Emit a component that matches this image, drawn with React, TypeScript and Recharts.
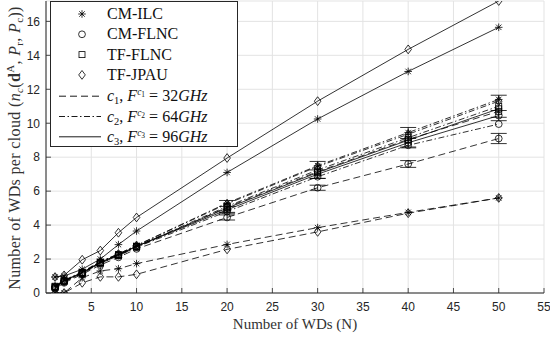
import React from 'react';
import { LineChart, Line, XAxis, YAxis, CartesianGrid, Legend, ErrorBar } from 'recharts';

// ---------- data ----------
const XS = [1, 2, 4, 6, 8, 10, 20, 30, 40, 50];
const X_TICKS = [5, 10, 15, 20, 25, 30, 35, 40, 45, 50, 55];
const Y_TICKS = [0, 2, 4, 6, 8, 10, 12, 14, 16];

const ILC_C1 = [0, 0, 0.9, 1.3, 1.43, 1.73, 2.86, 3.85, 4.75, 5.6];
const ILC_C2 = [0.4, 0.75, 1.25, 1.85, 2.3, 2.8, 5.3, 7.5, 9.45, 11.4];
const ILC_C3 = [0.94, 1.0, 1.4, 2.0, 2.85, 3.65, 7.1, 10.25, 13.05, 15.65];
const CMFLNC_C1 = [0.25, 0.6, 1.1, 1.65, 2.1, 2.6, 4.45, 6.2, 7.6, 9.1];
const CMFLNC_C2 = [0.3, 0.65, 1.15, 1.75, 2.2, 2.7, 4.8, 6.85, 8.7, 9.95];
const CMFLNC_C3 = [0.35, 0.7, 1.2, 1.8, 2.25, 2.75, 4.9, 7.0, 8.85, 10.45];
const TFFLNC_C1 = [0.35, 0.7, 1.15, 1.75, 2.2, 2.7, 5.05, 7.15, 9.05, 10.7];
const TFFLNC_C2 = [0.35, 0.7, 1.2, 1.8, 2.25, 2.75, 5.1, 7.25, 9.15, 11.0];
const TFFLNC_C3 = [0.4, 0.75, 1.2, 1.8, 2.25, 2.75, 5.0, 7.1, 9.0, 10.85];
const JPAU_C1 = [0, 0, 0.6, 0.95, 0.95, 1.1, 2.57, 3.6, 4.7, 5.6];
const JPAU_C2 = [0.35, 0.7, 1.2, 1.85, 2.3, 2.8, 5.25, 7.45, 9.35, 11.3];
const JPAU_C3 = [0.94, 1.04, 1.96, 2.5, 3.55, 4.45, 7.95, 11.3, 14.35, 17.2];

// error (half-range) values
const ERR_CMFLNC_C1 = [null, null, null, null, null, null, 0.15, 0.15, 0.2, 0.3];
const ERR_CMFLNC_C3 = [null, null, null, null, null, null, 0.2, 0.25, 0.25, 0.3];
const ERR_TFFLNC_C2 = [null, null, null, null, null, null, 0.35, 0.5, 0.6, 0.65];

type Shape = 'star' | 'circle' | 'square' | 'diamond';

const DASH = '7 4';
const DASHDOT = '6 2.5 1.5 2.5';

const SERIES: { key: string; values: number[]; shape: Shape; dash?: string; err?: (number | null)[] }[] = [
  { key: 'ilc1', values: ILC_C1, shape: 'star', dash: DASH },
  { key: 'ilc2', values: ILC_C2, shape: 'star', dash: DASHDOT },
  { key: 'ilc3', values: ILC_C3, shape: 'star' },
  { key: 'cm1', values: CMFLNC_C1, shape: 'circle', dash: DASH, err: ERR_CMFLNC_C1 },
  { key: 'cm2', values: CMFLNC_C2, shape: 'circle', dash: DASHDOT },
  { key: 'cm3', values: CMFLNC_C3, shape: 'circle', err: ERR_CMFLNC_C3 },
  { key: 'tf1', values: TFFLNC_C1, shape: 'square', dash: DASH },
  { key: 'tf2', values: TFFLNC_C2, shape: 'square', dash: DASHDOT, err: ERR_TFFLNC_C2 },
  { key: 'tf3', values: TFFLNC_C3, shape: 'square' },
  { key: 'jp1', values: JPAU_C1, shape: 'diamond', dash: DASH },
  { key: 'jp2', values: JPAU_C2, shape: 'diamond', dash: DASHDOT },
  { key: 'jp3', values: JPAU_C3, shape: 'diamond' },
];

const data = XS.map((x, i) => {
  const row: Record<string, number | null> = { x };
  SERIES.forEach((s) => {
    row[s.key] = s.values[i];
    if (s.err) row[s.key + '_err'] = s.err[i];
  });
  return row;
});

const AX = '#262626';
const SERIF = '"Liberation Serif", "Times New Roman", serif';
const SANS = '"Liberation Sans", Arial, Helvetica, sans-serif';

function Marker({ shape, cx, cy }: { shape: Shape; cx: number; cy: number }) {
  const sw = 0.8;
  if (shape === 'star') {
    const r = 3.8;
    const d = r * 0.72;
    return (
      <g stroke="#000" strokeWidth={sw}>
        <line x1={cx - r} y1={cy} x2={cx + r} y2={cy} />
        <line x1={cx} y1={cy - r} x2={cx} y2={cy + r} />
        <line x1={cx - d} y1={cy - d} x2={cx + d} y2={cy + d} />
        <line x1={cx - d} y1={cy + d} x2={cx + d} y2={cy - d} />
      </g>
    );
  }
  if (shape === 'circle') {
    return <circle cx={cx} cy={cy} r={3.4} fill="none" stroke="#000" strokeWidth={sw} />;
  }
  if (shape === 'square') {
    return <rect x={cx - 3} y={cy - 3} width={6} height={6} fill="none" stroke="#000" strokeWidth={sw} />;
  }
  return (
    <polygon
      points={`${cx},${cy - 4.4} ${cx + 3.3},${cy} ${cx},${cy + 4.4} ${cx - 3.3},${cy}`}
      fill="none"
      stroke="#000"
      strokeWidth={sw}
    />
  );
}

const makeDot = (shape: Shape, key: string) => (p: any) => {
  if (p.cx == null || p.cy == null) return <g key={`${key}-${p.index}`} />;
  return (
    <g key={`${key}-${p.index}`}>
      <Marker shape={shape} cx={p.cx} cy={p.cy} />
    </g>
  );
};

const XTickBottom = (p: any) => (
  <g>
    <line x1={p.x} x2={p.x} y1={p.y} y2={p.y - 5} stroke={AX} strokeWidth={0.8} />
    <text x={p.x} y={p.y + 18} textAnchor="middle" fontFamily={SANS} fontSize={12} fill={AX}>
      {p.payload.value}
    </text>
  </g>
);
const XTickTop = (p: any) => (
  <line x1={p.x} x2={p.x} y1={p.y} y2={p.y + 5} stroke={AX} strokeWidth={0.8} />
);
const YTickLeft = (p: any) => (
  <g>
    <line x1={p.x} x2={p.x + 5} y1={p.y} y2={p.y} stroke={AX} strokeWidth={0.8} />
    <text x={p.x - 6} y={p.y + 4.3} textAnchor="end" fontFamily={SANS} fontSize={12} fill={AX}>
      {p.payload.value}
    </text>
  </g>
);
const YTickRight = (p: any) => (
  <line x1={p.x} x2={p.x - 5} y1={p.y} y2={p.y} stroke={AX} strokeWidth={0.8} />
);

const LEGEND_MARKERS: { label: string; shape: Shape }[] = [
  { label: 'CM-ILC', shape: 'star' },
  { label: 'CM-FLNC', shape: 'circle' },
  { label: 'TF-FLNC', shape: 'square' },
  { label: 'TF-JPAU', shape: 'diamond' },
];
const LEGEND_LINES: { idx: string; freq: string; dash?: string }[] = [
  { idx: '1', freq: '32', dash: DASH },
  { idx: '2', freq: '64', dash: DASHDOT },
  { idx: '3', freq: '96' },
];

const LegendBox = () => {
  const W = 188;
  const H = 146;
  const rowY = (i: number) => 13 + i * 20.3;
  return (
    <svg width={W} height={H} style={{ display: 'block' }}>
      <rect x={0.5} y={0.5} width={W - 1} height={H - 1} fill="#fff" stroke={AX} strokeWidth={1} />
      {LEGEND_MARKERS.map((m, i) => (
        <g key={m.label}>
          <Marker shape={m.shape} cx={32} cy={rowY(i)} />
          <text x={57} y={rowY(i) + 5} fontFamily={SERIF} fontSize={16} fill="#111">
            {m.label}
          </text>
        </g>
      ))}
      {LEGEND_LINES.map((l, j) => {
        const y = rowY(4 + j) + 1;
        return (
          <g key={l.idx}>
            <line x1={9} x2={51} y1={y} y2={y} stroke="#000" strokeWidth={0.9} strokeDasharray={l.dash} />
            <text x={57} y={y + 5} fontFamily={SERIF} fontSize={16} fill="#111">
              <tspan fontStyle="italic">c</tspan>
              <tspan fontSize={10.5} dy={3}>{l.idx}</tspan>
              <tspan dy={-3}>,</tspan>
              <tspan dx={4} fontStyle="italic">F</tspan>
              <tspan fontSize={9.5} fontStyle="italic" dy={-6}>c</tspan>
              <tspan fontSize={7.5} dy={2}>{l.idx}</tspan>
              <tspan dy={4} dx={4}>=</tspan>
              <tspan dx={4}>{l.freq}</tspan>
              <tspan fontStyle="italic">GHz</tspan>
            </text>
          </g>
        );
      })}
    </svg>
  );
};

export default function App() {
  return (
    <div style={{ position: 'absolute', left: 0, top: 0, width: 550, height: 338, background: '#fff' }}>
      <LineChart width={550} height={338} data={data} margin={{ top: 1, right: 6, bottom: 0, left: 0 }}>
        <CartesianGrid stroke="#e3e3e3" strokeWidth={1} />
        <XAxis
          dataKey="x"
          type="number"
          domain={[0, 55]}
          ticks={X_TICKS}
          interval={0}
          height={45}
          tickSize={0}
          tickMargin={0}
          axisLine={{ stroke: AX, strokeWidth: 1 }}
          tick={XTickBottom}
          allowDataOverflow
        />
        <XAxis
          xAxisId="top"
          orientation="top"
          dataKey="x"
          type="number"
          domain={[0, 55]}
          ticks={X_TICKS}
          interval={0}
          height={0}
          tickSize={0}
          tickMargin={0}
          axisLine={{ stroke: AX, strokeWidth: 1 }}
          tick={XTickTop}
          allowDataOverflow
        />
        <YAxis
          type="number"
          domain={[0, 17.2]}
          ticks={Y_TICKS}
          interval={0}
          width={46}
          tickSize={0}
          tickMargin={0}
          axisLine={{ stroke: AX, strokeWidth: 1 }}
          tick={YTickLeft}
          allowDataOverflow
        />
        <YAxis
          yAxisId="right"
          orientation="right"
          type="number"
          domain={[0, 17.2]}
          ticks={Y_TICKS}
          interval={0}
          width={0}
          tickSize={0}
          tickMargin={0}
          axisLine={{ stroke: '#555', strokeWidth: 1.6 }}
          tick={YTickRight}
          allowDataOverflow
        />
        <Legend
          layout="vertical"
          align="center"
          verticalAlign="middle"
          wrapperStyle={{ left: 50, top: 1, width: 188, height: 146 }}
          content={() => <LegendBox />}
        />
        {SERIES.map((s) => (
          <Line
            key={s.key}
            dataKey={s.key}
            type="linear"
            stroke="#000"
            strokeWidth={0.8}
            strokeDasharray={s.dash}
            dot={makeDot(s.shape, s.key)}
            activeDot={false}
            isAnimationActive={false}
          >
            {s.err ? (
              <ErrorBar dataKey={s.key + '_err'} width={8} stroke="#000" strokeWidth={0.8} direction="y" />
            ) : null}
          </Line>
        ))}
      </LineChart>
      <svg
        width={30}
        height={338}
        style={{ position: 'absolute', left: 0, top: 0, overflow: 'visible' }}
      >
        <text
          transform="translate(20,148) rotate(-90)"
          textAnchor="middle"
          fontFamily={SERIF}
          fontSize={16}
          letterSpacing={0.35}
          fill="#333"
        >
          <tspan>Number of WDs per cloud (</tspan>
          <tspan fontStyle="italic">n</tspan>
          <tspan fontSize={11} fontStyle="italic" dy={3}>c</tspan>
          <tspan dy={-3}>(</tspan>
          <tspan fontWeight="bold">d</tspan>
          <tspan fontSize={11} dy={-6}>A</tspan>
          <tspan dy={6}>, </tspan>
          <tspan fontStyle="italic">P</tspan>
          <tspan fontSize={11} dy={3}>r</tspan>
          <tspan dy={-3}>, </tspan>
          <tspan fontStyle="italic">P</tspan>
          <tspan fontSize={11} dy={3}>c</tspan>
          <tspan dy={-3}>))</tspan>
        </text>
        <text x={295} y={329} textAnchor="middle" fontFamily={SERIF} fontSize={15} fill="#333">
          Number of WDs (N)
        </text>
      </svg>
    </div>
  );
}
